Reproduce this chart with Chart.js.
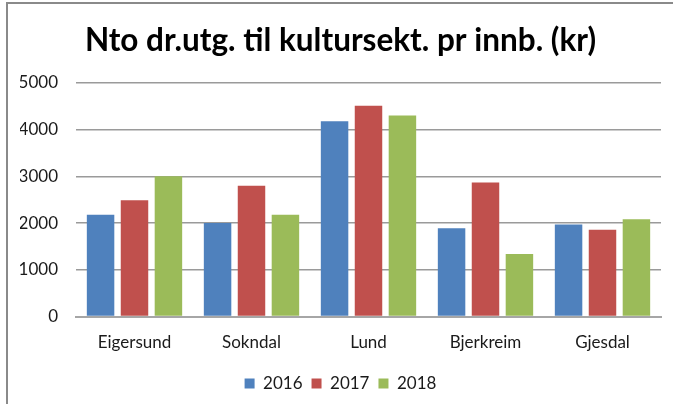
<!DOCTYPE html>
<html>
<head>
<meta charset="utf-8">
<script src="https://cdn.jsdelivr.net/npm/chart.js@4.4.0/dist/chart.umd.min.js"></script>
<style>
  html, body { margin: 0; padding: 0; background: #fff; }
  #wrap { position: relative; width: 673px; height: 404px; }
  #frame {
    position: absolute; left: 6px; top: 2px; right: -4px; bottom: -4px;
    border-left: 2px solid #8a8a8a; border-top: 2px solid #8a8a8a;
    pointer-events: none;
  }
</style>
</head>
<body>
<div id="wrap">
  <canvas id="myChart" width="673" height="404"></canvas>
  <div id="frame"></div>
</div>
<script>
const kommuner = ['Eigersund', 'Sokndal', 'Lund', 'Bjerkreim', 'Gjesdal'];
const aar = ['2016', '2017', '2018'];
const verdi2016 = [2180, 2000, 4180, 1890, 1970];
const verdi2017 = [2490, 2800, 4510, 2870, 1860];
const verdi2018 = [3000, 2180, 4300, 1340, 2080];
const yTicks = [0, 1000, 2000, 3000, 4000, 5000];

const farger = ['#4F81BD', '#C0504D', '#9BBB59'];
const serier = [verdi2016, verdi2017, verdi2018];

const ctx = document.getElementById('myChart').getContext('2d');
const myChart = new Chart(ctx, {
  type: 'bar',
  data: {
    labels: kommuner,
    datasets: serier.map((data, i) => ({
      label: aar[i],
      data,
      backgroundColor: farger[i],
      borderWidth: 0,
      categoryPercentage: 0.87,
      barPercentage: 0.81,
    })),
  },
  options: {
    responsive: false,
    animation: false,
    layout: { padding: { left: 20, right: 12, top: 0, bottom: 2 } },
    plugins: {
      title: {
        display: true,
        text: 'Nto dr.utg. til kultursekt. pr innb. (kr)',
        color: '#000',
        font: { family: 'Lato', size: 31.5, weight: 'bold' },
        padding: { top: 22, bottom: 23 },
      },
      legend: {
        position: 'bottom',
        labels: {
          color: '#1a1a1a',
          font: { family: 'Lato', size: 17 },
          boxWidth: 10,
          boxHeight: 10,
          padding: 9,
        },
      },
      tooltip: { enabled: false },
    },
    scales: {
      x: {
        grid: { display: false },
        border: { display: true, color: '#a6a6a6', width: 2 },
        ticks: { color: '#1a1a1a', font: { family: 'Lato', size: 17 }, padding: 8 },
        afterFit: (scale) => {
          // keep the plot area as wide as in the original
          scale.paddingLeft = 0;
          scale.paddingRight = 0;
          scale.height += 5;
        },
      },
      y: {
        min: 0,
        max: 5000,
        afterBuildTicks: (axis) => { axis.ticks = yTicks.map((v) => ({ value: v })); },
        grid: { color: '#9a9a9a', lineWidth: 1.5, drawTicks: false },
        border: { display: false },
        ticks: {
          color: '#1a1a1a',
          font: { family: 'Lato', size: 17 },
          padding: 18,
          callback: (v) => String(v),
        },
        afterFit: (scale) => { scale.width = 56; },
      },
    },
  },
});
</script>
</body>
</html>
